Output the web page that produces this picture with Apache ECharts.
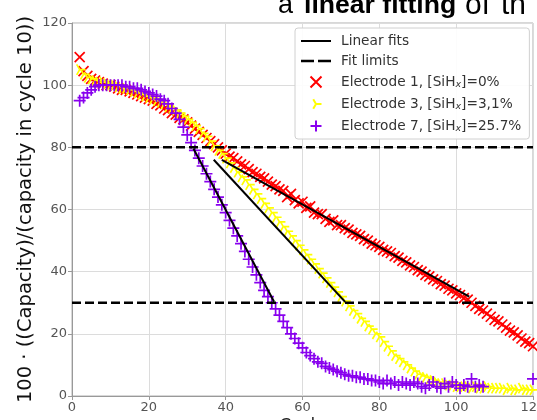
<!DOCTYPE html>
<html><head><meta charset="utf-8">
<script src="https://cdn.jsdelivr.net/npm/echarts@6/dist/echarts.min.js"></script>
<style>html,body{margin:0;padding:0;background:#fff;overflow:hidden}#c{width:537px;height:420px}</style>
</head><body><div id="c"></div>
<script>
// x tick labels / y tick labels
const xTicks = [0, 20, 40, 60, 80, 100, 120];
const yTicks = [0, 20, 40, 60, 80, 100, 120];

// Electrode 1, [SiHx]=0%
const redCycles = [2,3,4,5,6,7,8,9,10,11,12,13,14,15,16,17,18,19,20,21,22,23,24,25,26,27,28,29,30,31,32,33,34,35,36,37,38,39,40,41,42,43,44,45,46,47,48,49,50,51,52,53,54,55,56,57,58,59,60,61,62,63,64,65,66,67,68,69,70,71,72,73,74,75,76,77,78,79,80,81,82,83,84,85,86,87,88,89,90,91,92,93,94,95,96,97,98,99,100,101,102,103,104,105,106,107,108,109,110,111,112,113,114,115,116,117,118,119,120];
const redValues = [109,104.5,103,102,101.5,101,100.5,100,100,99.5,
  99,98.5,98.5,98,97.5,97,96.5,96,95.5,95,
  94,93.5,92.5,92,91,90.5,89.5,89,88,87,
  86,85,84,83,82,81,80,79,78,77,
  76.5,75.5,74.5,74,73,72,71.5,70.5,70,69,
  68,67.5,66.5,66,64,65,63,62,62.5,60.5,
  61,59,58.5,58.5,57,56,56.5,55,55,54,
  53.5,52.5,52,51.5,50.5,50,49,48.5,48,47,
  46.5,46,45,44.5,43.5,43,42,41.5,40.5,40,
  39,38.5,37.5,37,36,35.5,34.5,34,33,32.5,
  31.5,31,30,29,28,27.5,26.5,25.5,24.5,24,
  23,22,21,20.5,19.5,18.5,17.5,17,16];

// Electrode 3, [SiHx]=3,1%
const yellowCycles = [2,3,4,5,6,7,8,9,10,11,12,13,14,15,16,17,18,19,20,21,22,23,24,25,26,27,28,29,30,31,32,33,34,35,36,37,38,39,40,41,42,43,44,45,46,47,48,49,50,51,52,53,54,55,56,57,58,59,60,61,62,63,64,65,66,67,68,69,70,71,72,73,74,75,76,77,78,79,80,81,82,83,84,85,86,87,88,89,90,91,92,93,94,95,96,97,98,99,100,101,102,103,104,105,106,107,108,109,110,111,112,113,114,115,116,117,118,119,120];
const yellowValues = [105,103.5,102.5,102,101.5,101,101,100.5,100,100,
  99.5,99,99,98.5,98,97.5,97,96.5,96,95.5,
  95,94.5,94,93,92.5,92,91,90,89,88,
  87,86,84.5,83.5,82,80.5,79,78,76.5,75,
  73.5,72,70.5,69.5,68,66.5,65,63.5,62,60.5,
  59,57.5,56,54.5,53,51.5,50,48.5,47,45.5,
  44,42.5,41,39.5,38,36.5,35,33.5,32,30.5,
  29,27.5,26.5,25,24,22.5,21.5,20,19,17.5,
  16,14.5,13,12,11,10,9,8,7,6.5,
  6,5.5,5,4.5,4,4,3.5,3.5,3,3,
  3,3,2.5,3,2.5,2.5,3,2.5,2.5,2.5,
  2.5,2,2.5,2,2,2.5,2,2,2];

// Electrode 7, [SiHx]=25.7%
const purpleCycles = [2,3,4,5,6,7,8,9,10,11,12,13,14,15,16,17,18,19,20,21,22,23,24,25,26,27,28,29,30,31,32,33,34,35,36,37,38,39,40,41,42,43,44,45,46,47,48,49,50,51,52,53,54,55,56,57,58,59,60,61,62,63,64,65,66,67,68,69,70,71,72,73,74,75,76,77,78,79,80,81,82,83,84,85,86,87,88,89,90,91,92,93,94,95,96,97,98,99,100,101,102,103,104,105,106,107,120];
const purpleValues = [95,96,97.5,98.5,99.5,100,100,100,100,100,
  100,100,99.5,99.5,99,99,98.5,98,97.5,97,
  96.5,95.5,95,94,92.5,91,89,86.5,84,81.5,
  79,76.5,74,71.5,69,66.5,64,61.5,59,56.5,
  54,51.5,49,46.5,44,41.5,39,36.5,34,32,
  30,28,26,24,22,20,18.5,17,15.5,14,
  13,12,11,10.5,9.5,9,8.5,8,7.5,7,
  6.5,6.5,6,6,5.5,5.5,5,5,4.5,4,
  5,4,4.5,3.5,4.5,4,3.5,4.5,4,3,
  2.5,3.5,4.5,3,2.5,4,3,4.5,3.5,2.5,
  3.5,3,5.5,3,3.5,3,
  5.5];

// Linear fits: [startCycle, startValue, endCycle, endValue]
const fitRed = [39, 76, 103.4, 32];
const fitYellow = [36.9, 76, 71.1, 30.3];
const fitPurple = [31.6, 79.6, 52.6, 30.3];
// Fit limits
const fitLimits = [80, 30];

const NAME_E1 = 'Electrode 1, [SiHx]=0%';
const NAME_E3 = 'Electrode 3, [SiHx]=3,1%';
const NAME_E7 = 'Electrode 7, [SiHx]=25.7%';
const legendRich = {};
legendRich[NAME_E1] = '{t|Electrode 1, [SiH}{s|x}{t|]=0%}';
legendRich[NAME_E3] = '{t|Electrode 3, [SiH}{s|x}{t|]=3,1%}';
legendRich[NAME_E7] = '{t|Electrode 7, [SiH}{s|x}{t|]=25.7%}';

const pairs = (xs, ys) => xs.map((x, i) => [x, ys[i]]);

const X_PATH = 'path://M0,0L10,10M10,0L0,10';
const PLUS_PATH = 'path://M5,0L5,10M0,5L10,5';
const TRI_PATH = 'path://M0,5M5,0M5,10M5,5L10,5M5,5L2.5,0.67M5,5L2.5,9.33';
// legend icons (30x14 box)
const LEG_LINE = 'path://M0,0M30,14M0,6H30V8H0Z';
const LEG_DASH = 'path://M0,0M30,14M0,5.8H13V8.2H0ZM17,5.8H30V8.2H17Z';
const LEG_X = 'path://M-9.5,-1.5M20.5,12.5M0,0L11,11M11,0L0,11';
const LEG_PLUS = 'path://M-9.5,-1.5M20.5,12.5M5.5,0L5.5,11M0,5.5L11,5.5';
const LEG_TRI = 'path://M-9.5,-1.5M20.5,12.5M5.5,5.5L11,5.5M5.5,5.5L2.75,0.74M5.5,5.5L2.75,10.26';

const chart = echarts.init(document.getElementById('c'), null, {renderer: 'canvas'});

function fitSeries(f) {
  return {
    name: 'Linear fits', type: 'line', symbol: 'none', silent: true, z: 5,
    data: [[f[0], f[1]], [f[2], f[3]]],
    itemStyle: {color: '#000'},
    lineStyle: {color: '#000', width: 2}, animation: false
  };
}
function limitSeries(v) {
  return {
    name: 'Fit limits', type: 'line', symbol: 'none', silent: true, z: 5,
    data: [[xTicks[0], v], [xTicks[xTicks.length - 1], v]],
    itemStyle: {color: '#000'},
    lineStyle: {color: '#000', width: 2.5, type: [9, 4]}, animation: false
  };
}
function scatterSeries(name, xs, ys, path, color, size) {
  return {
    name: name, type: 'scatter', symbol: path, symbolSize: size, silent: true, z: 2,
    data: pairs(xs, ys),
    itemStyle: {color: 'rgba(0,0,0,0)', borderColor: color, borderWidth: 1.7, opacity: 1},
    animation: false
  };
}

const option = {
  backgroundColor: '#fff',
  animation: false,
  grid: {left: 72, right: 4, top: 23, bottom: 24, outerBoundsMode: 'none', containLabel: false,
    show: true, borderColor: '#b0b0b0', borderWidth: 1, backgroundColor: 'transparent'},
  xAxis: {
    type: 'value', min: xTicks[0], max: xTicks[xTicks.length - 1], interval: 20,
    name: 'Cycle', nameLocation: 'middle', nameGap: 22, nameMoveOverlap: false,
    nameTextStyle: {fontSize: 17, color: '#222', fontFamily: 'DejaVu Sans', verticalAlign: 'top'},
    axisLine: {show: true, lineStyle: {color: '#999', width: 1}},
    axisTick: {show: true, length: 4, inside: false, lineStyle: {color: '#999'}},
    axisLabel: {fontSize: 13, color: '#555', margin: 5, fontFamily: 'DejaVu Sans',
      formatter: v => xTicks.includes(v) ? String(v) : ''},
    splitLine: {show: true, lineStyle: {color: '#dcdcdc', width: 1}}
  },
  yAxis: {
    type: 'value', min: yTicks[0], max: yTicks[yTicks.length - 1], interval: 20,
    name: '100 · ((Capacity)/(capacity in cycle 10))', nameLocation: 'middle', nameGap: 36, nameRotate: 90,
    nameMoveOverlap: false,
    nameTextStyle: {fontSize: 19.5, color: '#111', fontFamily: 'DejaVu Sans'},
    axisLine: {show: true, lineStyle: {color: '#999', width: 1}},
    axisTick: {show: true, length: 4, inside: false, lineStyle: {color: '#999'}},
    axisLabel: {fontSize: 13, color: '#555', margin: 5, fontFamily: 'DejaVu Sans',
      formatter: v => yTicks.includes(v) ? String(v) : ''},
    splitLine: {show: true, lineStyle: {color: '#dcdcdc', width: 1}}
  },
  legend: {
    orient: 'vertical', left: 295, top: 28,
    padding: [6, 8, 5, 5], itemGap: 6, itemWidth: 30, itemHeight: 15,
    backgroundColor: 'rgba(255,255,255,0.9)', borderColor: '#d0d0d0', borderWidth: 1, borderRadius: 3,
    data: [
      {name: 'Linear fits', icon: LEG_LINE, itemStyle: {color: '#000', borderWidth: 0}},
      {name: 'Fit limits', icon: LEG_DASH, itemStyle: {color: '#000', borderWidth: 0}},
      {name: NAME_E1, icon: LEG_X},
      {name: NAME_E3, icon: LEG_TRI},
      {name: NAME_E7, icon: LEG_PLUS}
    ],
    formatter: name => legendRich[name] || ('{t|' + name + '}'),
    textStyle: {
      padding: [0, 0, 0, 5],
      rich: {
        t: {fontSize: 13.7, color: '#333', fontFamily: 'DejaVu Sans', lineHeight: 15},
        s: {fontSize: 9.5, color: '#333', fontFamily: 'DejaVu Sans', fontStyle: 'italic', lineHeight: 10, padding: [5, 0, 0, 0]}
      }
    },
    selectedMode: false
  },
  graphic: [
    {type: 'text', left: 278, top: -8, silent: true,
      style: {text: 'a', font: '27px "Liberation Sans", sans-serif', fill: '#000'}},
    {type: 'text', left: 304, top: -8, silent: true,
      style: {text: 'linear fitting', font: 'bold 26.6px "Liberation Sans", sans-serif', fill: '#000'}},
    {type: 'text', left: 465, top: -9, silent: true,
      style: {text: 'of', font: '30px "Liberation Sans", sans-serif', fill: '#000'}},
    {type: 'text', left: 501, top: -9, silent: true,
      style: {text: 'th', font: '30px "Liberation Sans", sans-serif', fill: '#000'}}
  ],
  series: [
    scatterSeries(NAME_E1, redCycles, redValues, X_PATH, '#ff0000', 10),
    scatterSeries(NAME_E3, yellowCycles, yellowValues, TRI_PATH, '#ffff00', 12),
    scatterSeries(NAME_E7, purpleCycles, purpleValues, PLUS_PATH, '#8800ee', 12),
    fitSeries(fitRed), fitSeries(fitYellow), fitSeries(fitPurple),
    limitSeries(fitLimits[0]), limitSeries(fitLimits[1])
  ]
};
chart.setOption(option);
</script>
</body></html>
